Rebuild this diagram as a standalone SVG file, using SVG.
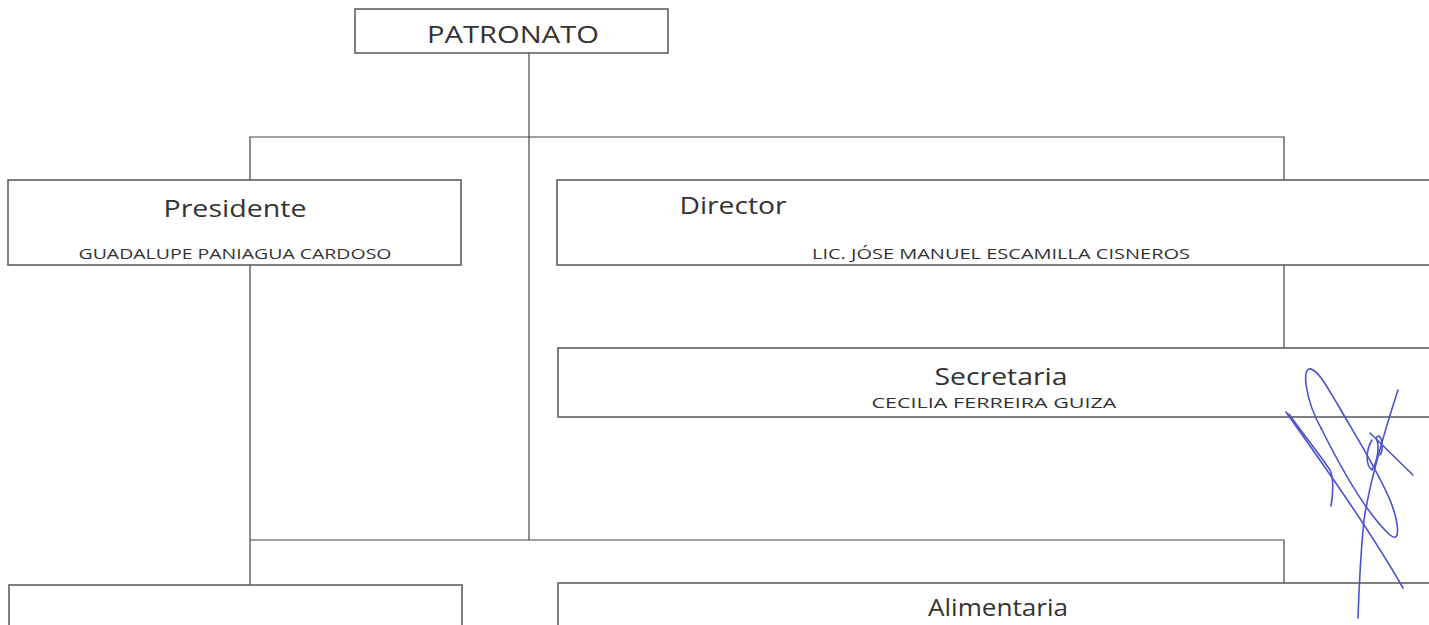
<svg xmlns="http://www.w3.org/2000/svg" width="1429" height="625" viewBox="0 0 1429 625">
<style>
.box{fill:#fff;stroke:#555;stroke-width:1.5}
.line{stroke:#444;stroke-width:1.2;fill:none}
.title{font-family:"Open Sans","Noto Sans",sans-serif;font-size:24px;fill:#333;text-anchor:middle}
.name{font-family:"Open Sans","Noto Sans",sans-serif;font-size:15px;fill:#333;text-anchor:middle}
.sig{stroke:#4a52d0;stroke-width:1.6;fill:none;stroke-linecap:round;stroke-linejoin:round}
</style>
<rect width="1429" height="625" fill="#fff"/>
<g id="connectors">
<path class="line" d="M529 53 V540"/>
<path class="line" d="M250 180 V137 H1284 V180"/>
<path class="line" d="M1284 265 V348"/>
<path class="line" d="M250 265 V585"/>
<path class="line" d="M250 540 H1284 V583"/>
</g>
<g id="patronato">
<rect class="box" x="355" y="9" width="313" height="44"/>
<text class="title" x="513" y="43" font-size="23" textLength="172" lengthAdjust="spacingAndGlyphs">PATRONATO</text>
</g>
<g id="presidente">
<rect class="box" x="8" y="180" width="453" height="85"/>
<text class="title" x="235" y="217" textLength="143" lengthAdjust="spacingAndGlyphs">Presidente</text>
<text class="name" x="235" y="259" textLength="313" lengthAdjust="spacingAndGlyphs">GUADALUPE PANIAGUA CARDOSO</text>
</g>
<g id="director">
<rect class="box" x="557" y="180" width="890" height="85"/>
<text class="title" x="733" y="214" textLength="107" lengthAdjust="spacingAndGlyphs">Director</text>
<text class="name" x="1001" y="259" textLength="378" lengthAdjust="spacingAndGlyphs">LIC. JÓSE MANUEL ESCAMILLA CISNEROS</text>
</g>
<g id="secretaria">
<rect class="box" x="558" y="348" width="890" height="69"/>
<text class="title" x="1001" y="385" textLength="133" lengthAdjust="spacingAndGlyphs">Secretaria</text>
<text class="name" x="994" y="408" textLength="245" lengthAdjust="spacingAndGlyphs">CECILIA FERREIRA GUIZA</text>
</g>
<g id="node-left-bottom">
<rect class="box" x="9" y="585" width="453" height="60"/>
</g>
<g id="alimentaria">
<rect class="box" x="558" y="583" width="890" height="60"/>
<text class="title" x="998" y="616" textLength="140" lengthAdjust="spacingAndGlyphs">Alimentaria</text>
</g>
<g id="signature">
<path class="sig" d="M1286 412 C1320 460 1370 530 1403 588"/>
<path class="sig" d="M1289 414 C1300 430 1320 455 1330 470 C1334 478 1333 495 1331 506"/>
<path class="sig" d="M1313 370 C1300 362 1305 400 1322 430 C1342 470 1368 515 1390 535 C1402 545 1398 520 1390 500 C1375 465 1352 430 1338 405 C1326 385 1320 374 1313 370"/>
<path class="sig" d="M1398 390 C1385 430 1370 480 1364 520 C1360 560 1359 590 1358 618"/>
<path class="sig" d="M1370 433 L1413 475"/>
<path class="sig" d="M1372 440 C1366 450 1365 465 1372 470 C1378 460 1380 445 1376 438 C1382 430 1384 450 1380 455"/>
</g>
</svg>
